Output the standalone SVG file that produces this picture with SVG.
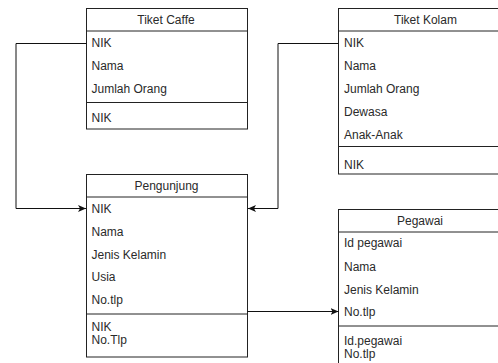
<svg xmlns="http://www.w3.org/2000/svg" width="498" height="363" viewBox="0 0 498 363">
<style>
.box{fill:#fff;stroke:#222;stroke-width:1}
.ln{stroke:#222;stroke-width:1;fill:none}
.t{font-family:"Liberation Sans",Arial,sans-serif;font-size:12px;fill:#2a2a2a}
.h{text-anchor:middle}
.conn{stroke:#111;stroke-width:1;fill:none}
</style>
<defs>
<marker id="arr" markerUnits="userSpaceOnUse" markerWidth="10" markerHeight="8" refX="8" refY="3.5" orient="auto">
<path d="M0,0 L8,3.5 L0,7 L2,3.5 z" fill="#111"/>
</marker>
</defs>
<rect width="498" height="363" fill="#fff"/>
<g id="tiket-caffe">
<rect class="box" x="86.5" y="8.5" width="161" height="120.5"/>
<line class="ln" x1="86.5" y1="31" x2="247.5" y2="31"/>
<line class="ln" x1="86.5" y1="102.5" x2="247.5" y2="102.5"/>
<text class="t h" x="166" y="23.8">Tiket Caffe</text>
<text class="t" x="91.5" y="47">NIK</text>
<text class="t" x="91.5" y="69.5">Nama</text>
<text class="t" x="91.5" y="92.5">Jumlah Orang</text>
<text class="t" x="91.5" y="121.5">NIK</text>
</g>
<g id="tiket-kolam">
<rect class="box" x="338.5" y="8.5" width="175" height="165.5"/>
<line class="ln" x1="338.5" y1="31" x2="513.5" y2="31"/>
<line class="ln" x1="338.5" y1="146.5" x2="513.5" y2="146.5"/>
<text class="t h" x="425.5" y="23.8">Tiket Kolam</text>
<text class="t" x="344" y="47">NIK</text>
<text class="t" x="344" y="69.5">Nama</text>
<text class="t" x="344" y="92.5">Jumlah Orang</text>
<text class="t" x="344" y="115.5">Dewasa</text>
<text class="t" x="344" y="139">Anak-Anak</text>
<text class="t" x="344" y="168.5">NIK</text>
</g>
<g id="pengunjung">
<rect class="box" x="86.5" y="174.5" width="161" height="182.5"/>
<line class="ln" x1="86.5" y1="197" x2="247.5" y2="197"/>
<line class="ln" x1="86.5" y1="314" x2="247.5" y2="314"/>
<text class="t h" x="166.5" y="190">Pengunjung</text>
<text class="t" x="91.5" y="213">NIK</text>
<text class="t" x="91.5" y="235.8">Nama</text>
<text class="t" x="91.5" y="258.5">Jenis Kelamin</text>
<text class="t" x="91.5" y="281.3">Usia</text>
<text class="t" x="91.5" y="304">No.tlp</text>
<text class="t" x="91.5" y="331">NIK</text>
<text class="t" x="91.5" y="344">No.Tlp</text>
</g>
<g id="pegawai">
<rect class="box" x="338.5" y="209.5" width="175" height="170"/>
<line class="ln" x1="338.5" y1="232" x2="513.5" y2="232"/>
<line class="ln" x1="338.5" y1="326" x2="513.5" y2="326"/>
<text class="t h" x="420" y="225">Pegawai</text>
<text class="t" x="344" y="247.2">Id pegawai</text>
<text class="t" x="344" y="270.8">Nama</text>
<text class="t" x="344" y="293.5">Jenis Kelamin</text>
<text class="t" x="344" y="316">No.tlp</text>
<text class="t" x="344" y="344.5">Id.pegawai</text>
<text class="t" x="344" y="357.5">No.tlp</text>
</g>
<g id="connectors">
<path class="conn" d="M86.5,43.5 H16 V208.5 H86" marker-end="url(#arr)"/>
<path class="conn" d="M338.5,43.5 H278 V208.5 H248" marker-end="url(#arr)"/>
<path class="conn" d="M247.5,311.5 H338.5" marker-end="url(#arr)"/>
</g>
</svg>
